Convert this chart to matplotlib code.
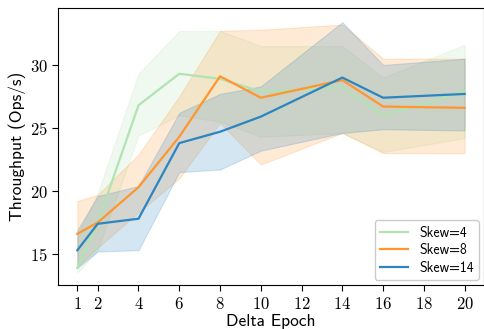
import matplotlib
matplotlib.use("Agg")
import matplotlib.pyplot as plt
import numpy as np

plt.rcParams['mathtext.fontset'] = 'cm'
plt.rcParams['axes.unicode_minus'] = False

x = [1, 2, 4, 6, 8, 10, 14, 16, 20]
xticks = [1, 2, 4, 6, 8, 10, 12, 14, 16, 18, 20]
yticks = [15, 20, 25, 30]

skew4_mean = [13.9, 17.5, 26.8, 29.3, 28.9, 27.9, 28.2, 26.0, 27.9]
skew4_low = [13.5, 15.3, 24.4, 26.0, 25.5, 24.3, 24.6, 23.1, 24.2]
skew4_high = [16.5, 19.8, 29.3, 32.7, 32.7, 31.5, 31.5, 29.0, 31.6]

skew8_mean = [16.6, 17.5, 20.3, 24.3, 29.1, 27.4, 28.8, 26.7, 26.6]
skew8_low = [14.0, 15.5, 18.3, 21.0, 25.4, 22.1, 24.6, 23.0, 23.0]
skew8_high = [19.2, 19.7, 22.9, 27.5, 32.7, 32.8, 33.2, 30.5, 30.5]

skew14_mean = [15.3, 17.4, 17.8, 23.8, 24.7, 25.9, 29.0, 27.4, 27.7]
skew14_low = [13.9, 15.2, 15.3, 21.5, 21.7, 23.2, 24.6, 24.9, 24.8]
skew14_high = [16.9, 19.6, 20.4, 26.2, 27.7, 28.3, 33.4, 30.0, 30.5]

labels = ["Skew=4", "Skew=8", "Skew=14"]
colors = ["#b3e2b3", "#ff962e", "#2a85c0"]

sans = ['cmss10', 'DejaVu Sans']

fig = plt.figure(figsize=(4.84, 3.29), dpi=100)
ax = fig.add_axes([0.1198, 0.1337, 0.8802, 0.842])

series = [(skew4_mean, skew4_low, skew4_high),
          (skew8_mean, skew8_low, skew8_high),
          (skew14_mean, skew14_low, skew14_high)]
for (m, lo, hi), lab, c in zip(series, labels, colors):
    ax.fill_between(x, lo, hi, color=c, alpha=0.2, linewidth=0.8)
    ax.plot(x, m, color=c, lw=1.6, label=lab)

ax.set_xlim(0.05, 20.95)
ax.set_ylim(12.54, 34.52)
ax.set_xticks(xticks)
ax.set_xticklabels([f"${t}$" for t in xticks], fontsize=12)
ax.set_yticks(yticks)
ax.set_yticklabels([f"${t}$" for t in yticks], fontsize=12)
ax.tick_params(direction='out', length=4, width=0.8, pad=3)
ax.set_xlabel("Delta Epoch", fontsize=12.5, family=sans)
ax.xaxis.set_label_coords(0.5, -0.106)
ax.set_ylabel("Throughput (Ops/s)", fontsize=12.5, family=sans, labelpad=3)
ax.legend(loc='lower right', prop={'family': sans, 'size': 10},
          framealpha=1, handlelength=2.0, labelspacing=0.25,
          borderaxespad=0.35)

fig.savefig("out.png", dpi=100)
